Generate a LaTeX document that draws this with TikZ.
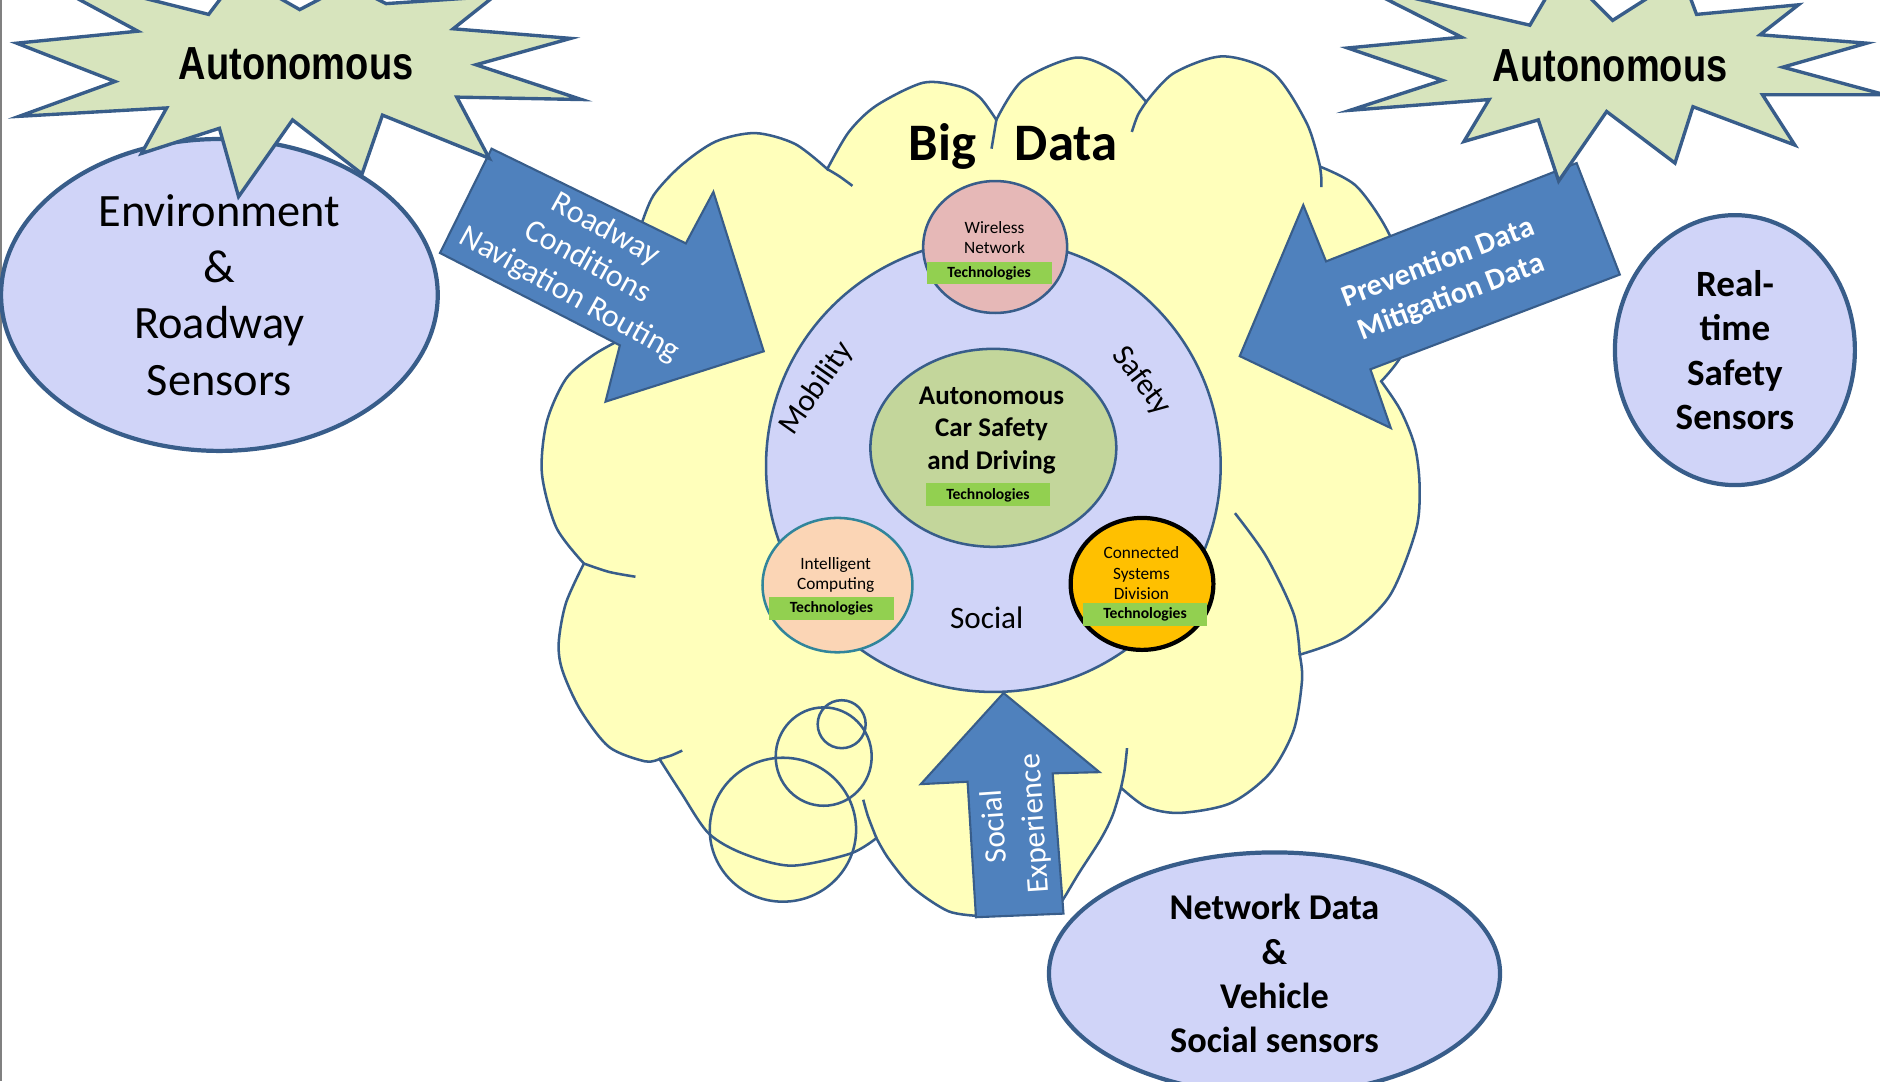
\documentclass[tikz,border=0pt]{standalone}
\usepackage{fontspec}
\setmainfont{Carlito}
\newfontfamily\burstfont[FakeStretch=0.82]{Liberation Sans}
\usetikzlibrary{shapes.geometric, positioning}

\definecolor{edgeblue}{RGB}{56,93,138}
\definecolor{arrowblue}{RGB}{79,129,189}
\definecolor{cloudyellow}{RGB}{255,255,187}
\definecolor{lavender}{RGB}{208,212,248}
\definecolor{burstgreen}{RGB}{215,228,189}
\definecolor{coregreen}{RGB}{195,214,155}
\definecolor{techgreen}{RGB}{146,208,80}
\definecolor{wirelesspink}{RGB}{230,184,183}
\definecolor{computepeach}{RGB}{251,213,181}
\definecolor{computeteal}{RGB}{49,133,155}
\definecolor{divisionorange}{RGB}{255,192,0}

\tikzstyle{sensor} = [
    ellipse, draw=edgeblue, line width=1pt, fill=lavender,
    inner sep=0pt, align=center % text centred in the oval
]
\tikzstyle{hub} = [
    ellipse, draw=edgeblue, line width=0.6pt, inner sep=0pt
]
\tikzstyle{techbox} = [
    rectangle, fill=techgreen, inner sep=0pt,
    minimum width=1.04cm, minimum height=0.19cm,
    font=\bfseries\fontsize{3.7}{4.4}\selectfont
]
\tikzstyle{hubtext} = [
    align=center, inner sep=0pt, font=\fontsize{4.1}{4.8}\selectfont
]
\tikzstyle{ringlabel} = [
    inner sep=0pt, font=\fontsize{7.4}{8.8}\selectfont
]
\tikzstyle{burst} = [
    draw=edgeblue, line width=0.8pt, fill=burstgreen
]
\tikzstyle{bursttext} = [
    inner sep=0pt, font=\burstfont\bfseries\fontsize{11}{13}\selectfont
]
\tikzstyle{blockarrow} = [
    draw=edgeblue, line width=0.5pt, fill=arrowblue
]
\tikzstyle{arrowtext} = [
    text=white, align=center, inner sep=0pt
]
\tikzstyle{bigcloud} = [
    draw=edgeblue, line width=0.6pt, fill=cloudyellow
]
\tikzstyle{cloudline} = [
    draw=edgeblue, line width=0.6pt
]

\begin{document}
\begin{tikzpicture}[x=0.01cm, y=-0.01cm]
        \useasboundingbox (0,0) rectangle (1568,902);
        \clip (0,0) rectangle (1568,902);
        \draw[gray, line width=0.5pt] (1,0) -- (1,902);

        % Thought bubbles (filled behind the cloud)
        \fill[cloudyellow] (653,692) ellipse [x radius=0.61cm, y radius=0.6cm];
        \fill[cloudyellow] (687,631) ellipse [x radius=0.4cm, y radius=0.41cm];
        \fill[cloudyellow] (702,604) ellipse [x radius=0.2cm, y radius=0.2cm];

        % Big Data cloud
        \path[bigcloud]
            plot[smooth] coordinates {(487,470) (464,440) (452,395) (456,352) (472,316) (495,296) (520,282)}
            -- plot[smooth] coordinates {(534,190) (545,163) (568,138) (597,118) (630,111) (663,120) (690,141)}
            -- plot[smooth] coordinates {(690,141) (708,110) (731,88) (770,69) (800,72) (817,81) (831,100)}
            -- plot[smooth] coordinates {(831,100) (853,67) (898,48) (932,61) (956,85)}
            -- plot[smooth] coordinates {(956,85) (979,61) (1020,47) (1062,61) (1090,103) (1101,139)}
            -- plot[smooth] coordinates {(1101,139) (1131,155) (1157,192) (1175,240) (1172,290) (1152,318)}
            -- plot[smooth] coordinates {(1152,318) (1168,342) (1180,372) (1184,405) (1181,442) (1159,497) (1123,531) (1084,546)}
            -- plot[smooth] coordinates {(1084,546) (1086,567) (1079,609) (1059,645) (1026,670) (984,678) (956,673) (935,657)}
            -- plot[smooth] coordinates {(935,657) (928,680) (918,700) (900,728) (888,748) (880,760)}
            -- plot[smooth] coordinates {(818,764) (791,760) (761,740) (741,716) (731,699)}
            -- plot[smooth] coordinates {(731,699) (709,712) (660,722) (620,712) (591,695) (568,661) (550,633)}
            -- plot[smooth] coordinates {(550,633) (538,635) (508,623) (484,592) (469,559) (466,536) (472,503) (487,470)}
            -- cycle;

        % Inner strokes of the cloud
        \draw[cloudline] plot[smooth] coordinates {(690,141) (700,147) (711,155)};
        \draw[cloudline] plot[smooth] coordinates {(831,100) (829,112) (827,124)};
        \draw[cloudline] plot[smooth] coordinates {(956,85) (949,96) (944,110)};
        \draw[cloudline] plot[smooth] coordinates {(1101,139) (1102,148) (1102,156)};
        \draw[cloudline] plot[smooth] coordinates {(1030,428) (1056,464) (1079,512) (1084,546)};
        \draw[cloudline] plot[smooth] coordinates {(940,624) (938,642) (935,657)};
        \draw[cloudline] plot[smooth] coordinates {(720,667) (724,681) (731,699)};
        \draw[cloudline] plot[smooth] coordinates {(550,633) (560,630) (569,626)};
        \draw[cloudline] plot[smooth] coordinates {(487,470) (508,477) (530,481)};

        % Thought bubble outlines
        \draw[cloudline] (653,692) ellipse [x radius=0.61cm, y radius=0.6cm];
        \draw[cloudline] (687,631) ellipse [x radius=0.4cm, y radius=0.41cm];
        \draw[cloudline] (702,604) ellipse [x radius=0.2cm, y radius=0.2cm];

        \node[font=\bfseries\fontsize{12.5}{15}\selectfont] (bigdata) at (845,122) {Big\hspace{0.73em}Data};

        % Ring and its hubs
        \node[hub, fill=lavender, minimum width=3.79cm, minimum height=3.77cm] (ring) at (828.5,388.5) {};
        \node[ringlabel, rotate=55] (mobility) at (681,324) {Mobility};
        \node[ringlabel, rotate=-53] (safety) at (952,318) {Safety};
        \node[ringlabel] (social) at (823,515.5) {Social};

        \node[hub, fill=coregreen, minimum width=2.05cm, minimum height=1.65cm] (core) at (828.5,373.5) {};
        \node[align=center, inner sep=0pt, font=\bfseries\fontsize{6.4}{7.7}\selectfont] (coretext) at (827,359) {Autonomous\\Car Safety\\and Driving};
        \node[techbox, below=0.29cm of core.center, xshift=-0.045cm] (techcore) {Technologies};

        \node[hub, fill=wirelesspink, minimum width=1.2cm, minimum height=1.1cm] (wireless) at (830,206) {};
        \node[hubtext] (wirelesstext) at (829.5,198) {Wireless\\Network};
        \node[techbox, below=0.115cm of wireless.center, xshift=-0.05cm] (techwireless) {Technologies};

        \node[hub, draw=computeteal, fill=computepeach, minimum width=1.25cm, minimum height=1.12cm] (compute) at (698.5,488) {};
        \node[hubtext] (computetext) at (697,479.5) {Intelligent\\Computing};
        \node[techbox, below=0.095cm of compute.center, xshift=-0.05cm] (techcompute) {Technologies};

        \node[hub, draw=black, line width=1pt, fill=divisionorange, minimum width=1.19cm, minimum height=1.1cm] (division) at (952.5,487) {};
        \node[hubtext] (divisiontext) at (952,478) {Connected\\Systems\\Division};
        \node[techbox, below=0.155cm of division.center, xshift=0.025cm] (techdivision) {Technologies};

        % Block arrows into the cloud
        \draw[blockarrow] (410,124) -- (572,203) -- (595,160) -- (637,293) -- (505,335) -- (517,288) -- (367,211) -- cycle;
        \node[arrowtext, rotate=-29, font=\fontsize{7.6}{8.8}\selectfont] (roadwaytext) at (490,219) {Roadway\\Conditions\\Navigation Routing};

        \draw[blockarrow] (1315,136) -- (1351,229) -- (1143,308) -- (1160,357) -- (1034,297) -- (1087,171) -- (1106,218) -- cycle;
        \node[arrowtext, rotate=21, font=\bfseries\fontsize{7.2}{8.7}\selectfont] (preventiontext) at (1205,234) {Prevention Data\\Mitigation Data};

        \draw[blockarrow] (837,578) -- (917,644) -- (878,645) -- (887,762) -- (814,765) -- (807,652) -- (768,654) -- cycle;
        \node[arrowtext, rotate=94, font=\fontsize{7.4}{9.6}\selectfont] (socialtext) at (847,688) {Social\\Experience};

        % Sensor ovals
        \node[sensor, minimum width=3.64cm, minimum height=2.6cm, font=\fontsize{11}{13.4}\selectfont] (envsensors) at (183,246) {Environment\\\&\\Roadway\\Sensors};
        \node[sensor, minimum width=2cm, minimum height=2.25cm, font=\bfseries\fontsize{8.8}{10.5}\selectfont] (safetysensors) at (1447,292) {Real-\\time\\Safety\\Sensors};
        \node[sensor, minimum width=3.76cm, minimum height=2.02cm, font=\bfseries\fontsize{8.6}{10.5}\selectfont] (socialsensors) at (1063,812) {Network Data\\\&\\Vehicle\\Social sensors};

        % Autonomous bursts
        \draw[burst] (15,-28) -- (174,12) -- (199,-21) -- (250,8) -- (290,-13) -- (322,3) -- (412,-3) -- (378,24) -- (476,32) -- (397,54) -- (485,83) -- (381,81) -- (408,132) -- (319,96) -- (302,145) -- (244,100) -- (199,164) -- (183,107) -- (118,128) -- (139,90) -- (16,97) -- (96,68) -- (14,36) -- (115,26) -- cycle;
        \node[bursttext] (autoleft) at (247,53) {Autonomous};

        \draw[burst] (1124,40) -- (1219,31) -- (1134,-12) -- (1276,21) -- (1303,-25) -- (1345,17) -- (1403,-20) -- (1415,12) -- (1500,4) -- (1468,29) -- (1557,36) -- (1487,56) -- (1572,79) -- (1470,79) -- (1497,121) -- (1412,89) -- (1397,136) -- (1340,93) -- (1300,151) -- (1283,100) -- (1221,118) -- (1242,83) -- (1126,92) -- (1203,67) -- cycle;
        \node[bursttext] (autoright) at (1343,55) {Autonomous};

    \end{tikzpicture}
\end{document}
